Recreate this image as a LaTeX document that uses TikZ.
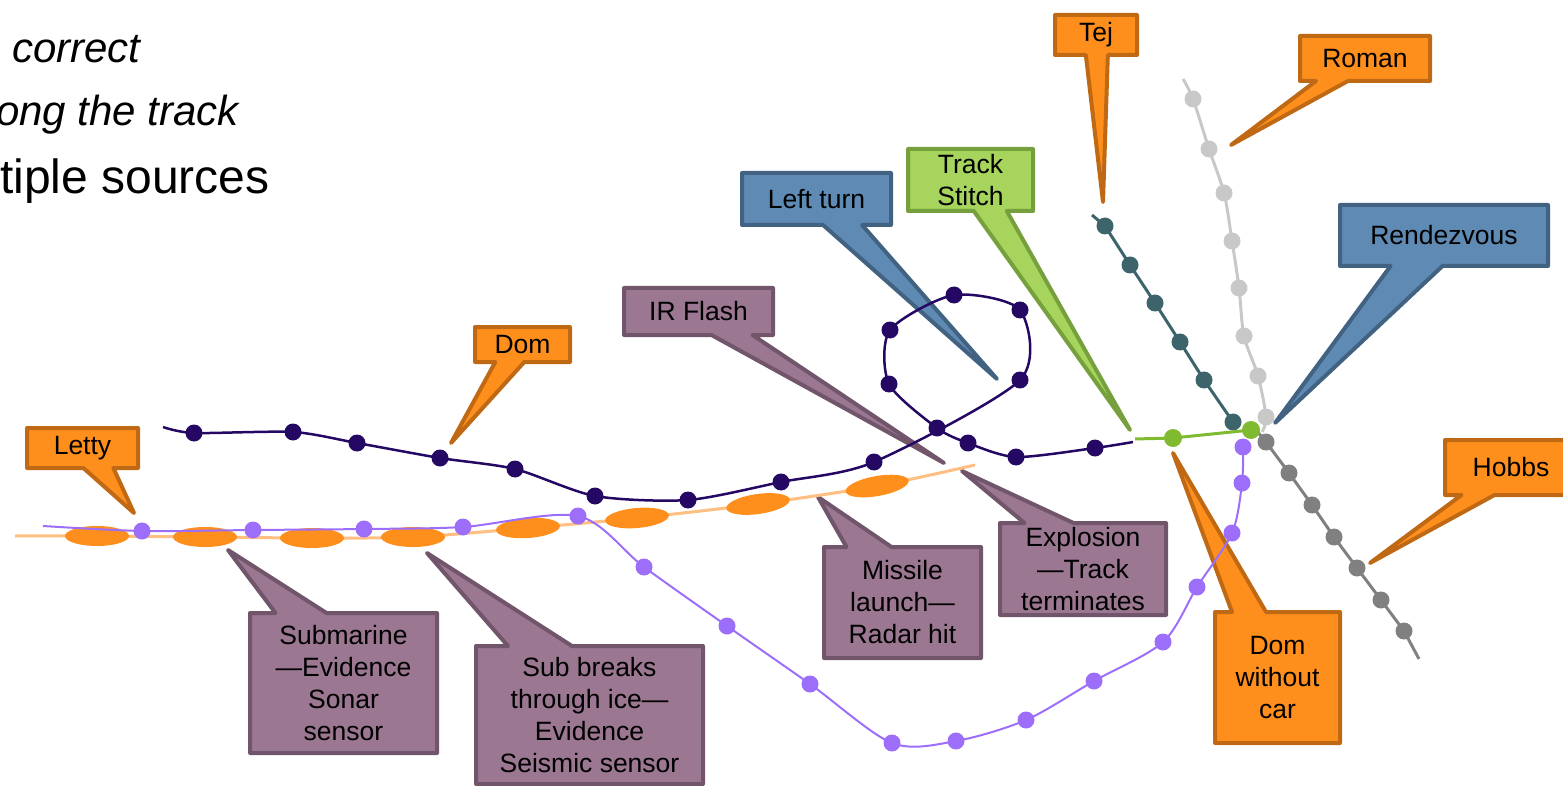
\documentclass[tikz,border=0pt]{standalone}
\usepackage{fontspec}
\setmainfont{Liberation Sans}
\usetikzlibrary{shapes.callouts}

\definecolor{orangefill}{RGB}{255,143,28}
\definecolor{orangeline}{RGB}{192,105,20}
\definecolor{mauvefill}{RGB}{155,119,145}
\definecolor{mauveline}{RGB}{112,85,107}
\definecolor{bluefill}{RGB}{94,138,180}
\definecolor{blueline}{RGB}{66,98,130}
\definecolor{greenfill}{RGB}{166,212,92}
\definecolor{greenline}{RGB}{118,160,62}
\definecolor{navytrack}{RGB}{36,8,100}
\definecolor{violettrack}{RGB}{157,110,250}
\definecolor{peachtrack}{RGB}{255,190,130}
\definecolor{limetrack}{RGB}{128,186,48}
\definecolor{tealtrack}{RGB}{60,100,106}
\definecolor{palegray}{RGB}{200,200,200}
\definecolor{midgray}{RGB}{128,128,128}

\begin{document}
\begin{tikzpicture}[x=1pt,y=-1pt,
    font=\fontsize{26.5}{32}\selectfont,
    callbox/.style={rectangle callout,draw,line width=4pt,line join=round,
      inner sep=0pt,align=center},
    orangebox/.style={callbox,fill=orangefill,draw=orangeline},
    mauvebox/.style={callbox,fill=mauvefill,draw=mauveline},
    bluebox/.style={callbox,fill=bluefill,draw=blueline},
    greenbox/.style={callbox,fill=greenfill,draw=greenline},
    bigtext/.style={anchor=base west,inner sep=0pt}]
  \useasboundingbox (0,0) rectangle (1563,786);

  % text running off the left edge
  \node[bigtext,font=\fontsize{42}{50}\selectfont\itshape] (row1) at (12,63) {correct};
  \node[bigtext,font=\fontsize{42}{50}\selectfont\itshape] (row2) at (-4,126) {ong the track};
  \node[bigtext,font=\fontsize{48}{56}\selectfont] (row3) at (0,194) {tiple sources};

  % where the callouts point
  \coordinate (letty tip) at (134,513);
  \coordinate (dom tip) at (451,443);
  \coordinate (irflash tip) at (944,463);
  \coordinate (leftturn tip) at (997,379);
  \coordinate (stitch tip) at (1130,430);
  \coordinate (tej tip) at (1103,202);
  \coordinate (roman tip) at (1231,145);
  \coordinate (rendezvous tip) at (1275,423);
  \coordinate (hobbs tip) at (1370,563);
  \coordinate (domcar tip) at (1173,453);
  \coordinate (explosion tip) at (962,471);
  \coordinate (missile tip) at (818,497);
  \coordinate (subbreaks tip) at (427,553);
  \coordinate (submarine tip) at (228,550);

  % callouts
  \node[orangebox,minimum width=111pt,minimum height=40pt,callout pointer width=30pt,
    callout absolute pointer={(letty tip)}] (letty) at (82.5,448) {Letty};
  \node[orangebox,minimum width=95pt,minimum height=35pt,callout pointer width=29pt,
    callout absolute pointer={(dom tip)}] (dom) at (522.5,344.5) {Dom};
  \node[mauvebox,minimum width=149pt,minimum height=47pt,callout pointer width=41pt,
    callout absolute pointer={(irflash tip)}] (irflash) at (698.5,311.5) {IR Flash};
  \node[bluebox,minimum width=149pt,minimum height=52pt,callout pointer width=39pt,
    callout absolute pointer={(leftturn tip)}] (leftturn) at (816.5,199) {Left turn};
  \node[greenbox,minimum width=125pt,minimum height=62pt,callout pointer width=33pt,
    callout absolute pointer={(stitch tip)}] (stitch) at (970.5,180) {Track\\Stitch};
  \node[orangebox,minimum width=82pt,minimum height=40pt,callout pointer width=22pt,
    callout absolute pointer={(tej tip)}] (tej) at (1096,35) {Tej};
  \node[orangebox,minimum width=130pt,minimum height=45pt,callout pointer width=32pt,
    callout absolute pointer={(roman tip)}] (roman) at (1365,58.5) {Roman};
  \node[bluebox,minimum width=208pt,minimum height=61pt,callout pointer width=52pt,
    callout absolute pointer={(rendezvous tip)}] (rendezvous) at (1444,235.5) {Rendezvous};
  \node[orangebox,minimum width=132pt,minimum height=55pt,callout pointer width=33pt,
    callout absolute pointer={(hobbs tip)}] (hobbs) at (1511,467.5) {Hobbs};
  \node[orangebox,minimum width=125pt,minimum height=131pt,callout pointer width=34pt,
    callout absolute pointer={(domcar tip)}] (domcar) at (1277.5,677.5) {Dom\\without\\car};
  \node[mauvebox,minimum width=166pt,minimum height=92pt,callout pointer width=49pt,
    callout absolute pointer={(explosion tip)}] (explosion) at (1083,569) {Explosion\\—Track\\terminates};
  \node[mauvebox,minimum width=157pt,minimum height=111pt,callout pointer width=45pt,
    callout absolute pointer={(missile tip)}] (missile) at (902.5,602.5) {Missile\\launch—\\Radar hit};
  \node[mauvebox,minimum width=227pt,minimum height=138pt,callout pointer width=64pt,
    callout absolute pointer={(subbreaks tip)}] (subbreaks) at (589.5,715) {Sub breaks\\through ice—\\Evidence\\Seismic sensor};
  \node[mauvebox,minimum width=187pt,minimum height=140pt,callout pointer width=51pt,
    callout absolute pointer={(submarine tip)}] (submarine) at (343.5,683) {Submarine\\—Evidence\\Sonar\\sensor};

  % orange track
  \path (97,536) coordinate (o1) (205,537) coordinate (o2) (312,538) coordinate (o3)
    (413,537) coordinate (o4) (528,528) coordinate (o5) (637,518) coordinate (o6)
    (758,504) coordinate (o7) (877,486) coordinate (o8);
  \draw[peachtrack,line width=3pt] plot[smooth] coordinates {(15,536) (o1) (o2) (o3) (o4) (o5) (o6) (o7) (o8) (975,465)};
  \fill[orangefill] (o1) ellipse (32 and 10) (o2) ellipse (32 and 10)
    (o3) ellipse (32 and 10) (o4) ellipse (32 and 10);
  \fill[orangefill,rotate around={4:(o5)}] (o5) ellipse (32 and 10);
  \fill[orangefill,rotate around={5:(o6)}] (o6) ellipse (32 and 10);
  \fill[orangefill,rotate around={8:(o7)}] (o7) ellipse (32 and 10);
  \fill[orangefill,rotate around={10:(o8)}] (o8) ellipse (32 and 10);

  % dark track with the loop
  \path (194,433) coordinate (d1) (293,432) coordinate (d2) (357,443) coordinate (d3)
    (440,458) coordinate (d4) (515,469) coordinate (d5) (595,496) coordinate (d6)
    (688,500) coordinate (d7) (781,482) coordinate (d8) (874,462) coordinate (d9)
    (1020,380) coordinate (d10) (1020,310) coordinate (d11) (954,295) coordinate (d12)
    (890,330) coordinate (d13) (889,384) coordinate (d14) (937,428) coordinate (d15)
    (968,443) coordinate (d16) (1016,457) coordinate (d17) (1095,448) coordinate (d18);
  \draw[navytrack,line width=2.5pt] plot[smooth,tension=.45] coordinates {(163,427) (d1) (d2) (d3) (d4) (d5)
    (d6) (d7) (d8) (d9) (d10) (d11) (d12) (d13) (d14) (d15) (d16) (d17) (d18) (1133,442)};
  \fill[navytrack] (d1) circle (8.5) (d2) circle (8.5) (d3) circle (8.5) (d4) circle (8.5)
    (d5) circle (8.5) (d6) circle (8.5) (d7) circle (8.5) (d8) circle (8.5) (d9) circle (8.5)
    (d10) circle (8.5) (d11) circle (8.5) (d12) circle (8.5) (d13) circle (8.5)
    (d14) circle (8.5) (d15) circle (8.5) (d16) circle (8.5) (d17) circle (8.5) (d18) circle (8.5);

  % violet track
  \path (142,531) coordinate (p1) (253,530) coordinate (p2) (364,529) coordinate (p3)
    (463,527) coordinate (p4) (578,516) coordinate (p5) (644,567) coordinate (p6)
    (727,626) coordinate (p7) (810,684) coordinate (p8) (892,743) coordinate (p9)
    (956,741) coordinate (p10) (1026,720) coordinate (p11) (1094,681) coordinate (p12)
    (1163,642) coordinate (p13) (1197,587) coordinate (p14) (1232,533) coordinate (p15)
    (1242,483) coordinate (p16) (1243,447) coordinate (p17);
  \draw[violettrack,line width=2pt] plot[smooth] coordinates {(43,526) (p1) (p2) (p3) (p4) (p5)
    (p6) (p7) (p8) (p9) (p10) (p11) (p12) (p13) (p14) (p15) (p16) (p17)};
  \fill[violettrack] (p1) circle (8.5) (p2) circle (8.5) (p3) circle (8.5) (p4) circle (8.5)
    (p5) circle (8.5) (p6) circle (8.5) (p7) circle (8.5) (p8) circle (8.5) (p9) circle (8.5)
    (p10) circle (8.5) (p11) circle (8.5) (p12) circle (8.5) (p13) circle (8.5)
    (p14) circle (8.5) (p15) circle (8.5) (p16) circle (8.5) (p17) circle (8.5);

  % gray tracks
  \path (1193,99) coordinate (l1) (1209,149) coordinate (l2) (1224,193) coordinate (l3)
    (1232,241) coordinate (l4) (1239,288) coordinate (l5) (1244,336) coordinate (l6)
    (1258,376) coordinate (l7) (1266,417) coordinate (l8);
  \draw[palegray,line width=3pt] plot[smooth] coordinates {(1183,79) (l1) (l2) (l3) (l4) (l5)
    (l6) (l7) (l8) (1262,432)};
  \fill[palegray] (l1) circle (8.5) (l2) circle (8.5) (l3) circle (8.5) (l4) circle (8.5)
    (l5) circle (8.5) (l6) circle (8.5) (l7) circle (8.5) (l8) circle (8.5);
  \path (1266,442) coordinate (m1) (1289,473) coordinate (m2) (1312,505) coordinate (m3)
    (1334,537) coordinate (m4) (1357,568) coordinate (m5) (1381,600) coordinate (m6)
    (1404,631) coordinate (m7);
  \draw[midgray,line width=3pt] (1256,430) -- (m1) -- (m2) -- (m3) -- (m4) -- (m5) -- (m6)
    -- (m7) -- (1419,659);
  \fill[midgray] (m1) circle (8.5) (m2) circle (8.5) (m3) circle (8.5) (m4) circle (8.5)
    (m5) circle (8.5) (m6) circle (8.5) (m7) circle (8.5);

  % teal track
  \path (1105,226) coordinate (t1) (1130,265) coordinate (t2) (1155,303) coordinate (t3)
    (1180,342) coordinate (t4) (1204,380) coordinate (t5) (1233,422) coordinate (t6);
  \draw[tealtrack,line width=3pt] (1092,215) -- (t1) -- (t2) -- (t3) -- (t4) -- (t5) -- (t6);
  \fill[tealtrack] (t1) circle (8.5) (t2) circle (8.5) (t3) circle (8.5) (t4) circle (8.5)
    (t5) circle (8.5) (t6) circle (8.5);

  % stitched piece
  \path (1173,438) coordinate (g1) (1251,430) coordinate (g2);
  \draw[limetrack,line width=3pt] (1135,439) -- (g1) -- (g2);
  \fill[limetrack] (g1) circle (9) (g2) circle (9);
\end{tikzpicture}
\end{document}
